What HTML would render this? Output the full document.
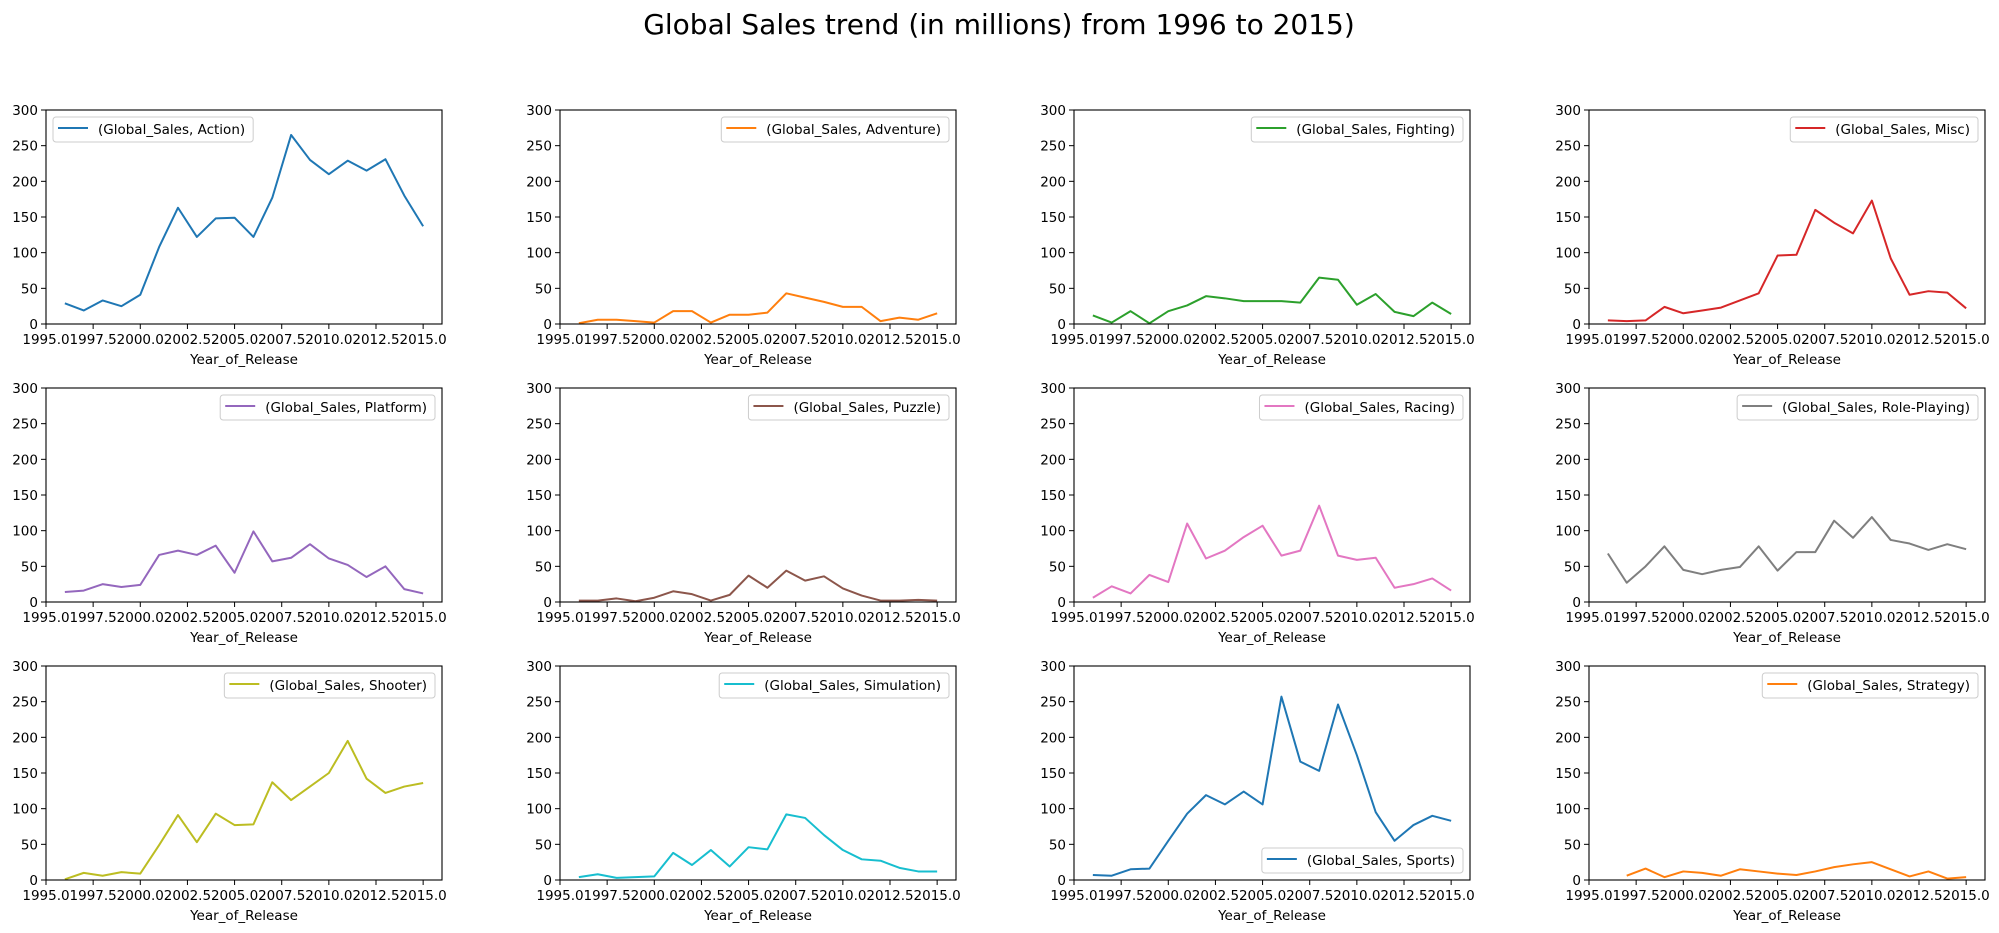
<!DOCTYPE html>
<html><head><meta charset="utf-8"><style>
html,body{margin:0;padding:0;background:#fff;}
svg{display:block;font-family:"DejaVu Sans","Liberation Sans",sans-serif;}
</style></head><body>
<svg id="fig" width="1999" height="933" viewBox="0 0 1999 933">
<text x="999" y="34" text-anchor="middle" font-size="28" fill="#000">Global Sales trend (in millions) from 1996 to 2015)</text>
</svg>
<script>
const genres = ["Action","Adventure","Fighting","Misc","Platform","Puzzle","Racing","Role-Playing","Shooter","Simulation","Sports","Strategy"];
const yearsFull = [1996,1997,1998,1999,2000,2001,2002,2003,2004,2005,2006,2007,2008,2009,2010,2011,2012,2013,2014,2015];
const yearsStrategy = [1997,1998,1999,2000,2001,2002,2003,2004,2005,2006,2007,2008,2009,2010,2011,2012,2013,2014,2015];
const action = [29,19,33,25,41,108,163,122,148,149,122,177,265,230,210,229,215,231,180,137];
const adventure = [1,6,6,4,2,18,18,2,13,13,16,43,37,31,24,24,4,9,6,15];
const fighting = [12,2,18,1,18,26,39,36,32,32,32,30,65,62,27,42,17,11,30,14];
const misc = [5,4,5,24,15,19,23,33,43,96,97,160,142,127,173,92,41,46,44,22];
const platform = [14,16,25,21,24,66,72,66,79,41,99,57,62,81,61,52,35,50,18,12];
const puzzle = [2,2,5,1,6,15,11,2,10,37,20,44,30,36,19,9,2,2,3,2];
const racing = [6,22,12,38,28,110,61,72,91,107,65,72,135,65,59,62,20,25,33,16];
const rolePlaying = [68,27,50,78,45,39,45,49,78,44,70,70,114,90,119,87,82,73,81,74];
const shooter = [1,10,6,11,9,49,91,53,93,77,78,137,112,131,150,195,142,122,131,136];
const simulation = [4,8,3,4,5,38,21,42,19,46,43,92,87,63,42,29,27,17,12,12];
const sports = [7,6,15,16,55,93,119,106,124,106,257,166,153,246,175,95,55,77,90,83];
const strategy = [6,16,4,12,10,6,15,12,9,7,12,18,22,25,15,5,12,2,4];
const xTicks = [1995.0,1997.5,2000.0,2002.5,2005.0,2007.5,2010.0,2012.5,2015.0];
const yTicks = [0,50,100,150,200,250,300];

const series = [action,adventure,fighting,misc,platform,puzzle,racing,rolePlaying,shooter,simulation,sports,strategy];
const colors = ["#1f77b4","#ff7f0e","#2ca02c","#d62728","#9467bd","#8c564b","#e377c2","#7f7f7f","#bcbd22","#17becf","#1f77b4","#ff7f0e"];
const legendLoc = ["ul","ur","ur","ur","ur","ur","ur","ur","ur","ur","lr","ur"];
const colLeft = [46,560,1074,1589];
const rowTop = [110,388,666];
const W = 396, H = 214;
const X0 = 1995.0, X1 = 2016.0, Y0 = 0, Y1 = 300;
const NS = "http://www.w3.org/2000/svg";
const svg = document.getElementById("fig");
function mk(tag, attrs, parent){const e=document.createElementNS(NS,tag);for(const k in attrs)e.setAttribute(k,attrs[k]);(parent||svg).appendChild(e);return e;}

genres.forEach((g,i)=>{
  const L = colLeft[i%4], T = rowTop[Math.floor(i/4)];
  const sx = v => L + (v - X0)/(X1 - X0)*W;
  const sy = v => T + H - (v - Y0)/(Y1 - Y0)*H;
  const grp = mk("g",{});
  
  
  const yrs = g === "Strategy" ? yearsStrategy : yearsFull;
  const vals = series[i];
  const pts = yrs.map((y,k)=> sx(y).toFixed(2)+","+sy(vals[k]).toFixed(2)).join(" ");
  const line = mk("polyline",{points:pts,fill:"none",stroke:colors[i],"stroke-width":2,"stroke-linejoin":"round"},grp);
  
  
  const frame = mk("rect",{x:L,y:T,width:W,height:H,fill:"none",stroke:"#000","stroke-width":1.1},grp);
  
  
  yTicks.forEach(t=>{
    const y = sy(t);
    mk("line",{x1:L-5,x2:L,y1:y,y2:y,stroke:"#000","stroke-width":1},grp);
    const tl = mk("text",{x:L-8,y:y+5,"text-anchor":"end","font-size":13.5,fill:"#000"},grp);
    tl.textContent = String(t);
    
    
  });
  xTicks.forEach(t=>{
    const x = sx(t);
    mk("line",{x1:x,x2:x,y1:T+H,y2:T+H+5,stroke:"#000","stroke-width":1},grp);
    const tl = mk("text",{x:x,y:T+H+20,"text-anchor":"middle","font-size":13.5,fill:"#000"},grp);
    tl.textContent = t.toFixed(1);
    
    
  });
  const xl = mk("text",{x:L+W/2,y:T+H+40,"text-anchor":"middle","font-size":13.5,fill:"#000"},grp);
  xl.textContent = "Year_of_Release";
  
  
  // legend
  const lg = mk("g",{},grp);
  
  
  const box = mk("rect",{y:0,height:25,rx:3,fill:"#fff","fill-opacity":0.8,stroke:"#ccc","stroke-width":1},lg);
  const lt = mk("text",{"font-size":13.5,fill:"#000"},lg);
  lt.textContent = "(Global_Sales, " + g + ")";
  
  
  const tw = lt.getComputedTextLength();
  const bw = 45 + tw + 8;
  let bx, by;
  if (legendLoc[i] === "ul") { bx = L + 7; by = T + 7; }
  else if (legendLoc[i] === "ur") { bx = L + W - 7 - bw; by = T + 7; }
  else { bx = L + W - 7 - bw; by = T + H - 7 - 25; }
  box.setAttribute("x", bx); box.setAttribute("y", by); box.setAttribute("width", bw);
  const sw = mk("line",{x1:bx+5,x2:bx+35,y1:by+11,y2:by+11,stroke:colors[i],"stroke-width":2},lg);
  
  
  lt.setAttribute("x", bx+45); lt.setAttribute("y", by+17);
});
</script>
</body></html>
